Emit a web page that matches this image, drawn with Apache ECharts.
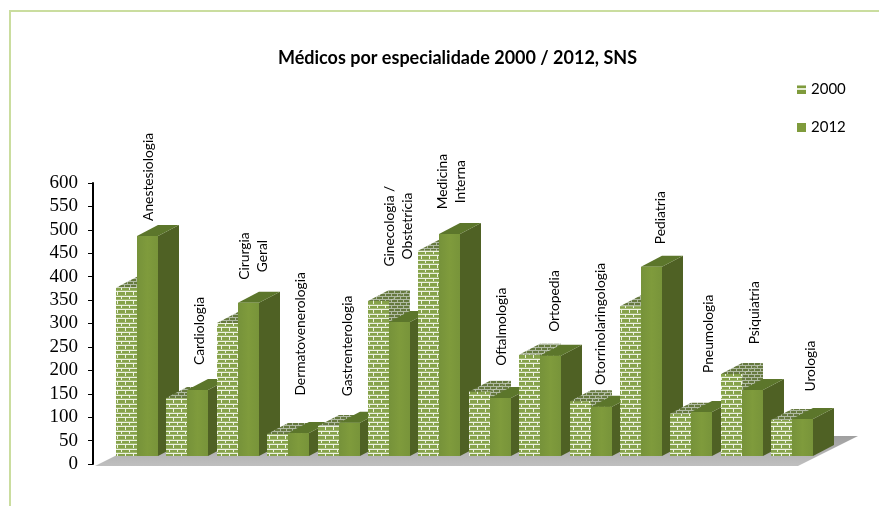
<!DOCTYPE html>
<html><head><meta charset="utf-8">
<style>html,body{margin:0;padding:0;background:#fff}#c{width:879px;height:506px}</style>
<script src="https://cdn.jsdelivr.net/npm/echarts@6/dist/echarts.min.js"></script>
</head><body><div id="c"></div>
<script>
const categories = ['Anestesiologia','Cardiologia','Cirurgia\nGeral','Dermatovenerologia','Gastrenterologia','Ginecologia /\nObstetrícia','Medicina\nInterna','Oftalmologia','Ortopedia','Otorrinolaringologia','Pediatria','Pneumologia','Psiquiatria','Urologia'];
const values2000 = [359,124,284,47,64,331,438,137,216,117,320,90,175,77];
const values2012 = [470,141,327,49,71,286,474,124,214,105,404,94,141,79];
const tickInterval = 50;
// label layout: centre height on the value scale, and sideways nudge in px
const labelHeight = [613,284,444,278,252,508,603,293,348,299,526,278,323,209];
const labelNudge  = [12,12,16,12,9,10,12,12,14,10,20,17,13,18];

function tile(w,h,draw){const c=document.createElement('canvas');c.width=w;c.height=h;draw(c.getContext('2d'));return c;}
const brick = tile(8,9,g=>{
  g.fillStyle='#86a24a';g.fillRect(0,0,8,9);
  g.fillStyle='#eef3e2';
  g.fillRect(0,3,8,1);g.fillRect(0,8,8,1);
  g.fillRect(1,0,1,3);g.fillRect(5,4,1,4);
  g.fillStyle='#9db56b';g.fillRect(0,2,8,1);g.fillRect(0,7,8,1);
});
const mesh = tile(6,6,g=>{
  g.fillStyle='#66793f';g.fillRect(0,0,6,6);
  g.fillStyle='#b0baa2';
  g.fillRect(0,2,6,1);g.fillRect(0,5,6,1);g.fillRect(1,0,1,2);g.fillRect(4,3,1,2);
});
const legendBrick = tile(9,9,g=>{
  g.fillStyle='#7f9b3c';g.fillRect(0,0,9,9);
  g.fillStyle='#e6edd6';g.fillRect(0,3,9,2);
  g.fillStyle='#b9c998';g.fillRect(0,0,9,1);
});
const frontSolid = {type:'linear',x:0,y:0,x2:1,y2:0,colorStops:[{offset:0,color:'#76923a'},{offset:.5,color:'#7f9b3c'},{offset:1,color:'#78943a'}]};
const pat = (im)=>({image:im,repeat:'repeat'});

function makeRender(seriesIdx){
  return function(params,api){
    const i=api.value(0), v=api.value(1);
    const band=api.size([1,0])[0];
    const w=Math.round(band*0.417), dx=w, dy=11, lift=8;
    const c=api.coord([i,v]), b=api.coord([i,0]);
    const x0=Math.round(c[0]-w+seriesIdx*w), x1=x0+w;
    const top=c[1]-lift, base=b[1]-lift;
    const z=i*2+seriesIdx+10;
    const isBrick=seriesIdx===0;
    const front={type:'rect',z2:z,shape:{x:x0,y:top,width:w,height:base-top},
      style:{fill:isBrick?pat(brick):frontSolid}};
    const side={type:'polygon',z2:z,shape:{points:[[x1,top],[x1+dx,top-dy],[x1+dx,base-dy],[x1,base]]},
      style:{fill:isBrick?pat(mesh):'#4f6124'}};
    const topFace={type:'polygon',z2:z,shape:{points:[[x0,top],[x0+dx,top-dy],[x1+dx,top-dy],[x1,top]]},
      style:{fill:isBrick?pat(mesh):'#5c762b'}};
    return {type:'group',children:[side,topFace,front]};
  };
}
function renderLabel(params,api){
  const i=api.value(0);
  const p=api.coord([i,labelHeight[i]]);
  return {type:'text',z2:100,x:p[0]+labelNudge[i],y:p[1],rotation:Math.PI/2,
    style:{text:categories[i],align:'center',verticalAlign:'middle',textAlign:'center',textVerticalAlign:'middle',
      font:'13.8px Lato, sans-serif',fill:'#000',lineHeight:18}};
}
const pairs = a=>a.map((v,i)=>[i,v]);
const chart=echarts.init(document.getElementById('c'),null,{renderer:'canvas'});
chart.setOption({
  animation:false,
  backgroundColor:'#fff',
  title:{text:'Médicos por especialidade 2000 / 2012, SNS',left:452.5,top:44,textAlign:'center',
    textStyle:{fontFamily:'Lato, sans-serif',fontWeight:'bold',fontSize:18,color:'#000'}},
  legend:{orient:'vertical',left:792,top:77,itemWidth:9,itemHeight:9,itemGap:23,icon:'rect',
    textStyle:{fontFamily:'Lato, sans-serif',fontSize:15,color:'#000'},
    data:[{name:'2000',itemStyle:{color:pat(legendBrick)}},{name:'2012',itemStyle:{color:'#7f9b3c'}}]},
  grid:{left:111.8,top:183,width:705.6,height:281},
  xAxis:{type:'category',data:categories,show:false},
  yAxis:{type:'value',min:0,max:600,interval:tickInterval,offset:18.8,
    axisLine:{show:true,lineStyle:{color:'#000',width:2}},
    axisTick:{show:true,length:5,lineStyle:{color:'#000',width:1}},
    axisLabel:{fontFamily:'Liberation Serif, serif',fontSize:19,color:'#000',margin:15,padding:[6,0,0,0]},
    splitLine:{show:false}},
  graphic:[
    {type:'rect',z:0,shape:{x:10,y:10,width:869,height:2},style:{fill:'#cadd9f'}},
    {type:'rect',z:0,shape:{x:9,y:10,width:2,height:496},style:{fill:'#cadd9f'}},
    {type:'polygon',z:0,shape:{points:[[95,466],[798,466],[858,436],[155,436]]},
      style:{fill:{type:'linear',x:0,y:0,x2:0,y2:1,colorStops:[{offset:0,color:'#9f9f9f'},{offset:.6,color:'#b4b4b4'},{offset:1,color:'#bfbfbf'}]}}}
  ],
  series:[
    {name:'2000',type:'custom',z:2,silent:true,clip:false,itemStyle:{color:pat(legendBrick)},renderItem:makeRender(0),data:pairs(values2000),encode:{x:0,y:1}},
    {name:'2012',type:'custom',z:2,silent:true,clip:false,itemStyle:{color:'#7f9b3c'},renderItem:makeRender(1),data:pairs(values2012),encode:{x:0,y:1}},
    {name:'labels',type:'custom',z:3,silent:true,clip:false,renderItem:renderLabel,data:pairs(labelHeight),encode:{x:0,y:1}}
  ]
});
</script></body></html>
